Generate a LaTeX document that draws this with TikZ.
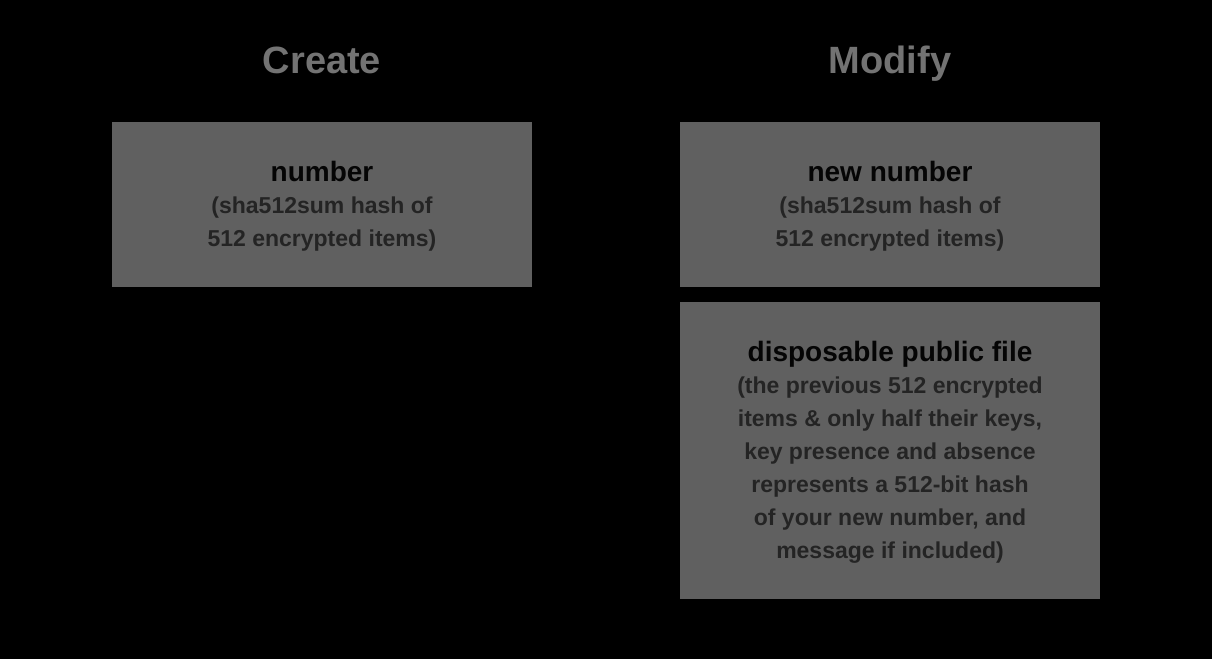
\documentclass[tikz,border=0pt]{standalone}
\usepackage{fontspec}
\setmainfont{Liberation Sans}
\definecolor{bg}{HTML}{000000}
\definecolor{boxfill}{HTML}{606060}
\definecolor{headgray}{HTML}{737373}
\definecolor{desctext}{HTML}{242424}
\definecolor{titletext}{HTML}{050505}
\tikzset{
  panel/.style={fill=boxfill, draw=none, inner sep=0pt},
  heading/.style={anchor=base, text=headgray, font=\fontsize{38}{44}\selectfont\bfseries},
  boxtitle/.style={anchor=base, text=titletext, font=\fontsize{28}{33}\selectfont\bfseries},
  boxdesc/.style={anchor=base, align=center, text=desctext, font=\fontsize{23}{33}\selectfont\bfseries, inner sep=0pt},
}
\begin{document}
\begin{tikzpicture}[x=1pt,y=-1pt]
\fill[bg] (0,0) rectangle (1212,659);
\useasboundingbox (0,0) rectangle (1212,659);
% headings
\node[heading] (create) at (322,73) {Create};
\node[heading] (modify) at (890,73) {Modify};
% panels
\node[panel, minimum width=420pt, minimum height=165pt] (numbox) at (322,204.5) {};
\node[panel, minimum width=420pt, minimum height=165pt] (newbox) at (890,204.5) {};
\node[panel, minimum width=420pt, minimum height=297pt] (filebox) at (890,450.5) {};
% texts (base anchor = baseline of the last line)
\node[boxtitle] (numtitle) at (322,181.5) {number};
\node[boxdesc] (numdesc) at (322,246) {(sha512sum hash of\\512 encrypted items)};
\node[boxtitle] (newtitle) at (890,181.5) {new number};
\node[boxdesc] (newdesc) at (890,246) {(sha512sum hash of\\512 encrypted items)};
\node[boxtitle] (filetitle) at (890,361) {disposable public file};
\node[boxdesc] (filedesc) at (890,558) {(the previous 512 encrypted\\items \& only half their keys,\\key presence and absence\\represents a 512-bit hash\\of your new number, and\\message if included)};
\end{tikzpicture}
\end{document}
